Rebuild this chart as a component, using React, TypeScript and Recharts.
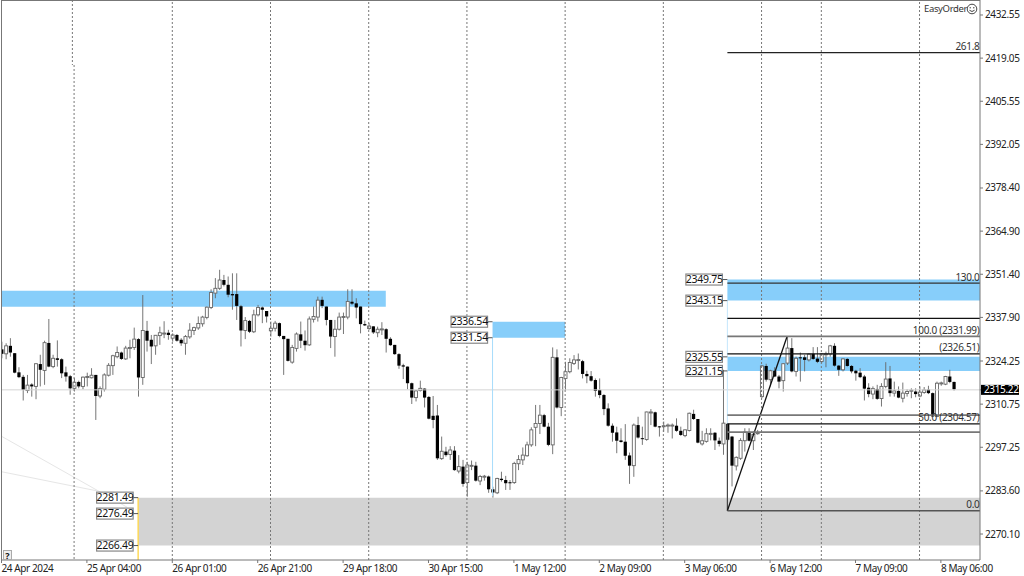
import { Bar, ComposedChart, ReferenceArea, ReferenceDot, ReferenceLine, XAxis, YAxis } from "recharts";

const FONT = "'Noto Sans', sans-serif";

const opens = [
  2327.9,2326.5,2329.0,2326.7,2320.7,2319.3,2315.0,2316.9,2316.3,2323.3,
  2321.3,2329.9,2322.5,2325.1,2324.8,2320.7,2319.5,2315.7,2317.7,2316.3,
  2319.2,2319.0,2319.9,2313.3,2315.4,2319.8,2322.8,2325.6,2326.9,2324.9,
  2328.3,2328.5,2331.1,2319.1,2333.7,2330.9,2329.0,2332.2,2332.7,2333.1,
  2331.4,2332.4,2330.9,2329.8,2331.8,2333.8,2334.6,2335.9,2337.9,2341.0,
  2345.5,2347.0,2349.6,2348.1,2345.2,2345.2,2341.4,2333.8,2336.8,2333.4,
  2338.7,2341.0,2339.9,2333.7,2334.5,2336.1,2332.1,2331.2,2323.9,2328.2,
  2332.6,2330.6,2329.3,2337.3,2338.0,2343.4,2341.3,2337.1,2331.9,2334.2,
  2338.0,2338.0,2342.8,2342.3,2341.3,2335.8,2334.4,2335.1,2333.1,2334.1,
  2334.2,2331.2,2329.3,2326.4,2322.9,2322.5,2317.3,2312.8,2315.0,2315.6,
  2313.0,2307.1,2307.2,2293.7,2295.9,2295.0,2296.2,2289.8,2291.2,2286.2,
  2291.4,2291.5,2286.7,2288.0,2288.1,2284.1,2283.0,2287.4,2287.0,2286.3,
  2286.2,2292.1,2293.3,2294.6,2298.0,2303.5,2304.7,2307.3,2303.7,2298.0,
  2325.4,2309.7,2318.8,2320.9,2323.5,2324.5,2324.2,2320.2,2319.5,2318.3,
  2315.2,2313.6,2309.4,2304.0,2301.9,2299.4,2299.0,2294.7,2291.5,2304.2,
  2300.1,2299.7,2308.1,2308.2,2303.8,2303.8,2304.0,2304.0,2304.0,2302.4,
  2300.9,2302.5,2307.7,2306.1,2298.3,2299.1,2301.4,2301.8,2299.3,2298.3,
  2304.6,2300.6,2291.4,2293.8,2299.3,2302.0,2299.3,2301.6,2313.1,2322.7,
  2318.4,2321.2,2319.4,2318.1,2323.6,2328.3,2321.0,2325.4,2325.4,2324.6,
  2326.5,2325.0,2324.1,2326.3,2326.4,2329.0,2322.8,2321.5,2324.9,2322.7,
  2321.2,2320.6,2319.4,2315.9,2313.9,2315.5,2312.5,2316.3,2318.8,2314.2,
  2314.9,2312.6,2314.1,2314.9,2314.7,2313.3,2314.4,2315.3,2314.2,2306.9,
  2317.2,2317.0,2319.4,2317.7,
];
const highs = [
  2330.3,2329.8,2331.4,2326.7,2322.3,2319.9,2319.9,2317.3,2323.6,2326.2,
  2330.6,2337.4,2326.2,2330.7,2325.1,2322.5,2319.9,2318.9,2318.1,2319.4,
  2320.6,2322.0,2319.9,2316.3,2320.4,2323.6,2326.2,2328.8,2327.2,2329.0,
  2330.9,2334.7,2331.4,2344.9,2336.8,2332.4,2332.4,2335.0,2336.7,2334.0,
  2332.9,2332.7,2331.4,2332.4,2336.1,2335.0,2338.2,2338.4,2341.3,2346.7,
  2350.2,2352.8,2351.2,2350.7,2351.7,2351.7,2341.8,2338.0,2337.1,2340.3,
  2341.8,2341.3,2339.9,2336.6,2336.8,2336.3,2332.1,2331.2,2329.3,2333.2,
  2336.6,2333.8,2338.2,2341.3,2344.4,2344.4,2341.3,2337.1,2337.1,2339.4,
  2339.4,2346.7,2346.7,2343.9,2341.3,2336.9,2336.1,2335.1,2335.0,2336.4,
  2334.5,2331.7,2329.3,2326.7,2323.4,2322.5,2317.5,2315.2,2318.1,2315.7,
  2313.3,2313.3,2310.5,2300.6,2297.4,2297.6,2297.6,2294.8,2293.3,2292.7,
  2293.1,2292.7,2288.6,2288.6,2288.4,2284.9,2287.7,2289.6,2288.3,2287.0,
  2292.7,2294.8,2297.2,2299.0,2303.5,2310.5,2310.5,2307.7,2304.9,2328.5,
  2327.9,2319.3,2324.0,2325.1,2326.1,2326.6,2324.6,2321.2,2321.1,2318.8,
  2318.8,2313.9,2311.0,2304.7,2303.7,2303.2,2304.5,2295.6,2304.7,2306.8,
  2303.7,2308.4,2309.2,2308.4,2303.9,2305.3,2304.7,2304.7,2306.3,2303.7,
  2302.9,2308.1,2309.0,2306.1,2302.4,2303.2,2303.2,2302.0,2300.3,2321.5,
  2304.8,2300.8,2294.4,2300.1,2303.2,2303.2,2302.2,2302.7,2323.0,2323.4,
  2321.5,2322.3,2319.9,2323.6,2331.7,2331.4,2325.6,2326.9,2326.2,2326.7,
  2328.6,2328.6,2326.7,2327.2,2329.3,2329.8,2323.0,2325.1,2325.1,2323.0,
  2321.5,2322.0,2319.9,2317.3,2316.3,2316.8,2317.3,2323.9,2322.7,2317.8,
  2316.3,2317.5,2315.4,2315.7,2315.7,2316.3,2316.1,2316.5,2314.4,2317.8,
  2317.8,2319.6,2321.5,2317.8,
];
const lows = [
  2325.1,2324.8,2325.6,2320.4,2318.9,2311.9,2314.2,2313.1,2312.3,2316.3,
  2316.8,2322.3,2322.0,2322.5,2318.9,2317.8,2313.7,2314.7,2315.7,2315.4,
  2316.3,2318.8,2305.8,2312.6,2314.7,2319.4,2319.9,2325.1,2324.6,2324.6,
  2325.1,2327.7,2313.1,2316.8,2327.2,2323.3,2326.2,2329.3,2331.4,2330.9,
  2330.3,2330.3,2329.0,2326.2,2331.2,2332.4,2334.0,2335.0,2337.3,2340.5,
  2343.9,2346.5,2347.6,2344.2,2340.3,2337.1,2328.8,2331.1,2333.0,2333.0,
  2338.2,2336.1,2336.3,2331.9,2333.5,2331.7,2319.9,2324.1,2323.4,2327.2,
  2328.3,2327.5,2329.0,2336.3,2336.6,2340.8,2335.4,2328.3,2325.6,2333.8,
  2332.7,2337.3,2341.8,2337.6,2332.9,2335.2,2334.0,2332.7,2331.7,2332.4,
  2326.9,2329.0,2326.2,2321.8,2318.6,2315.4,2310.8,2311.6,2314.7,2309.7,
  2306.0,2303.2,2293.3,2293.3,2294.3,2293.3,2289.9,2289.1,2284.9,2281.8,
  2290.1,2286.5,2285.4,2286.8,2283.0,2281.5,2282.6,2286.5,2283.9,2283.9,
  2285.8,2290.1,2291.7,2294.3,2297.4,2297.6,2301.4,2303.5,2297.6,2295.1,
  2309.4,2307.0,2315.2,2320.4,2323.0,2321.6,2318.8,2317.3,2317.8,2313.1,
  2312.6,2307.3,2303.7,2299.0,2295.4,2298.7,2293.3,2285.8,2288.0,2300.0,
  2298.0,2299.3,2304.2,2303.5,2300.6,2302.1,2301.8,2300.0,2302.1,2300.8,
  2300.4,2302.2,2305.8,2298.5,2297.8,2298.7,2299.4,2296.4,2297.5,2294.9,
  2299.1,2285.0,2290.0,2293.3,2295.9,2299.1,2296.4,2301.2,2312.6,2317.8,
  2316.3,2319.2,2315.7,2314.7,2323.0,2320.7,2319.4,2317.8,2321.0,2324.1,
  2324.6,2323.6,2323.6,2322.3,2325.6,2322.5,2319.6,2321.0,2322.5,2320.4,
  2318.1,2318.9,2311.9,2312.9,2312.3,2312.1,2310.0,2315.7,2313.1,2313.1,
  2312.6,2311.3,2313.1,2312.6,2312.9,2312.9,2314.0,2313.9,2306.7,2306.7,
  2316.5,2316.7,2317.3,2315.0,
];
const closes = [
  2326.5,2329.0,2326.9,2320.6,2319.2,2315.2,2316.7,2316.3,2323.4,2321.5,
  2330.0,2322.5,2325.1,2324.6,2320.4,2319.4,2315.7,2317.6,2316.3,2319.2,
  2319.4,2319.8,2313.3,2315.6,2319.9,2322.9,2325.9,2326.9,2324.9,2328.3,
  2328.5,2331.1,2319.1,2333.8,2330.6,2328.8,2332.3,2333.1,2333.0,2332.4,
  2332.4,2330.6,2329.8,2331.9,2333.9,2334.7,2336.0,2338.0,2341.1,2345.7,
  2347.0,2349.6,2348.1,2345.0,2344.8,2341.5,2333.8,2336.9,2333.4,2338.7,
  2341.0,2340.3,2338.2,2334.5,2336.1,2332.1,2331.1,2324.3,2328.5,2332.7,
  2330.6,2329.2,2337.4,2338.2,2343.3,2341.5,2337.1,2331.9,2334.2,2338.0,
  2338.2,2342.9,2342.2,2341.0,2335.8,2335.4,2335.2,2333.2,2334.2,2334.3,
  2331.2,2329.2,2326.4,2322.8,2322.5,2317.3,2312.8,2314.9,2315.7,2312.8,
  2306.2,2305.8,2293.8,2296.0,2294.8,2296.4,2290.1,2291.2,2285.8,2291.7,
  2291.6,2286.8,2288.1,2288.2,2284.1,2283.1,2287.5,2287.0,2286.0,2286.1,
  2292.2,2293.4,2294.8,2298.0,2302.7,2304.7,2307.3,2303.7,2298.0,2325.4,
  2309.7,2319.1,2320.9,2323.8,2324.6,2324.7,2320.2,2319.5,2318.1,2314.9,
  2313.6,2309.2,2304.0,2301.8,2299.3,2298.9,2294.6,2291.5,2304.2,2300.3,
  2299.8,2308.3,2308.3,2303.7,2303.5,2304.0,2304.2,2304.2,2302.4,2301.1,
  2302.7,2307.9,2306.1,2298.7,2299.3,2301.5,2301.6,2299.4,2298.3,2304.8,
  2299.6,2291.5,2294.1,2299.4,2302.0,2299.3,2301.3,2301.8,2322.7,2318.4,
  2321.2,2319.4,2317.8,2323.4,2328.3,2321.0,2325.1,2325.1,2324.6,2326.4,
  2324.9,2324.0,2326.5,2326.5,2329.0,2322.8,2321.5,2324.9,2322.7,2321.0,
  2320.4,2319.2,2315.6,2313.9,2315.6,2312.4,2316.3,2318.6,2314.2,2314.9,
  2312.8,2314.2,2314.7,2315.1,2313.9,2314.5,2315.2,2314.2,2306.9,2317.3,
  2317.4,2319.4,2317.7,2315.4,
];

const priceTicks = [2432.55,2419.05,2405.55,2392.05,2378.40,2364.90,2351.40,2337.90,2324.25,2315.22,2310.75,2297.25,2283.60,2270.10];
const lastPrice = 2315.22;
const timeTicks = [0,20,40,60,80,100,120,140,160,180,200,220];
const timeLabels = ["24 Apr 2024","25 Apr 04:00","26 Apr 01:00","26 Apr 21:00","29 Apr 18:00","30 Apr 15:00","1 May 12:00","2 May 09:00","3 May 06:00","6 May 12:00","7 May 09:00","8 May 06:00"];
const daySeparators = [40,63,86,109,132,155,178,192,215];

const xMin = -0.117;
const xMax = 229.16;
const yMin = 2261.97;
const yMax = 2437.24;

// [from bar, to bar, upper price, lower price]
const blueZones = [
  [xMin,90,2346.25,2341.25],
  [115,132,2336.54,2331.54],
  [170,xMax,2349.75,2343.15],
  [170,xMax,2325.55,2321.15],
];
const grayZone = [32,xMax,2281.49,2266.49];

// [price, colour, width]
const fibLines: [number,string,number][] = [
  [2420.8,"#222",1.2],
  [2348.6,"#333",1.2],
  [2337.6,"#111",1.2],
  [2331.99,"#777",1.8],
  [2326.51,"#111",1.2],
  [2307.3,"#777",1.6],
  [2304.57,"#111",1.2],
  [2302.0,"#777",1.6],
  [2277.4,"#555",1.4],
];
const fibTexts: [string,number][] = [
  ["261.8",2420.8],
  ["130.0",2348.6],
  ["100.0 (2331.99)",2331.99],
  ["(2326.51)",2326.51],
  ["50.0 (2304.57)",2304.57],
  ["0.0",2277.4],
];
// [bar, price]
const priceBoxes = [
  [32,2281.49],[32,2276.49],[32,2266.49],
  [115,2336.54],[115,2331.54],
  [170,2349.75],[170,2343.15],[170,2325.55],[170,2321.15],
];

const candles = opens.map((open,i) => ({ idx:i, open, high:highs[i], low:lows[i], close:closes[i] }));

function Candle(props:any) {
  const { x, y, width, height, payload } = props;
  const top = Math.min(y, y+height);
  const h = Math.abs(height);
  const unit = h/(payload.high-payload.low);
  const cx = x+width/2;
  const bull = payload.close>=payload.open;
  const yTop = top+(payload.high-Math.max(payload.open,payload.close))*unit;
  const yBot = top+(payload.high-Math.min(payload.open,payload.close))*unit;
  return (
    <g>
      <line x1={cx} x2={cx} y1={top} y2={top+h} stroke="#666" strokeWidth={0.9} />
      {bull
        ? <rect x={cx-1.5} y={yTop} width={3} height={Math.max(yBot-yTop,1)} fill="#fff" stroke="#666" strokeWidth={0.9} />
        : <rect x={cx-1.6} y={yTop} width={3.2} height={Math.max(yBot-yTop,1)} fill="#000" />}
    </g>
  );
}

function PriceTick(props:any) {
  const { x, y, payload } = props;
  if (payload.value===lastPrice) {
    return (
      <g>
        <rect x={x-2} y={y-5} width={38} height={10} fill="#000" />
        <text x={x+1} y={y+3.5} fontSize={10} fontFamily={FONT} fill="#fff" letterSpacing={-0.35}>{payload.value.toFixed(2)}</text>
      </g>
    );
  }
  return <text x={x+2} y={y+3.5} fontSize={10} fontFamily={FONT} fill="#222" letterSpacing={-0.35}>{payload.value.toFixed(2)}</text>;
}

function TimeTick(props:any) {
  const { x, y, payload, index } = props;
  return <text x={x} y={y+9} fontSize={10} fontFamily={FONT} fill="#222" letterSpacing={-0.4}>{timeLabels[index]}</text>;
}

function boxShape(price:number) {
  return (props:any) => {
    const { cx, cy } = props;
    return (
      <g>
        <line x1={cx-5} x2={cx} y1={cy} y2={cy} stroke="#555" />
        <rect x={cx-41.5} y={cy-5.5} width={36.5} height={11} fill="#fff" stroke="#888" strokeWidth={1.2} />
        <text x={cx-23.2} y={cy+3.7} textAnchor="middle" fontSize={10.5} fontFamily={FONT} fill="#111" letterSpacing={-0.25}>{price.toFixed(2)}</text>
      </g>
    );
  };
}

function fibTextShape(text:string) {
  return (props:any) => (
    <text x={props.cx-0.5} y={props.cy-2.5} textAnchor="end" fontSize={10} fontFamily={FONT} fill="#333" letterSpacing={-0.3}>{text}</text>
  );
}

export default function App() {
  return (
    <div style={{ position:"fixed", left:0, top:0, width:1024, height:576, background:"#fff", overflow:"hidden" }}>
      <ComposedChart width={1024} height={576} data={candles} margin={{ top:0, right:0, bottom:0, left:1 }}>
        <XAxis
          dataKey="idx" type="number" domain={[xMin,xMax]} ticks={timeTicks} interval={0}
          height={16} tickSize={3} tickMargin={0} tick={<TimeTick />}
          stroke="#777" allowDataOverflow
        />
        <YAxis
          orientation="right" domain={[yMin,yMax]} ticks={priceTicks} interval={0}
          width={44} tickSize={3} tickMargin={0} tick={<PriceTick />}
          stroke="#777" allowDataOverflow
        />
        {blueZones.map((z,i) => (
          <ReferenceArea key={i} x1={z[0]} x2={z[1]} y1={z[2]} y2={z[3]} fill="#87CEFA" fillOpacity={1} stroke="none" />
        ))}
        <ReferenceArea x1={grayZone[0]} x2={grayZone[1]} y1={grayZone[2]} y2={grayZone[3]} fill="#D3D3D3" fillOpacity={1} stroke="none" />
        <ReferenceLine y={lastPrice} stroke="#d4d4d4" strokeWidth={1} />
        <ReferenceLine segment={[{x:0,y:2300.7},{x:29.4,y:2278.5}]} stroke="#e6e6e6" />
        <ReferenceLine segment={[{x:0,y:2289.6},{x:22.4,y:2283.6}]} stroke="#e6e6e6" />
        <ReferenceLine segment={[{x:16.6,y:yMax},{x:16.6,y:2416.9}]} stroke="#777" strokeDasharray="2 2" />
        <ReferenceLine segment={[{x:17,y:2416.9},{x:17,y:yMin}]} stroke="#777" strokeDasharray="2 2" />
        {daySeparators.map(d => (
          <ReferenceLine key={d} x={d} stroke="#777" strokeDasharray="2 2" />
        ))}
        <ReferenceLine segment={[{x:115,y:2331.54},{x:115,y:2282}]} stroke="#A8DCFB" />
        <ReferenceLine segment={[{x:170,y:2343.15},{x:170,y:2304.6}]} stroke="#C4E6FC" />
        <ReferenceLine segment={[{x:32,y:2281.49},{x:32,y:yMin}]} stroke="#FFD84D" strokeWidth={1.4} />
        <Bar dataKey={(d:any) => [d.low,d.high]} barSize={3} shape={<Candle />} isAnimationActive={false} />
        <ReferenceLine segment={[{x:170,y:2304.6},{x:170,y:2277.4}]} stroke="#444" strokeWidth={1.2} />
        <ReferenceLine segment={[{x:170,y:2277.4},{x:184,y:2331.99}]} stroke="#111" strokeWidth={1.3} />
        {fibLines.map(([p,c,w]) => (
          <ReferenceLine key={p} segment={[{x:170,y:p},{x:xMax,y:p}]} stroke={c} strokeWidth={w} />
        ))}
        {fibTexts.map(([t,p]) => (
          <ReferenceDot key={t} x={xMax} y={p} r={0} shape={fibTextShape(t)} />
        ))}
        {priceBoxes.map(([b,p]) => (
          <ReferenceDot key={p} x={b} y={p} r={0} shape={boxShape(p)} />
        ))}
      </ComposedChart>
      <div style={{ position:"absolute", left:1, top:0, width:979, height:560, boxSizing:"border-box", borderLeft:"1px solid #777", borderTop:"1px solid #777", pointerEvents:"none" }} />
      <div style={{ position:"absolute", left:3, top:550, width:9, height:10, boxSizing:"border-box", border:"1px solid #aaa", background:"#eee", font:`bold 9px ${FONT}`, lineHeight:"9px", textAlign:"center", color:"#111" }}>?</div>
      <div style={{ position:"absolute", left:924, top:2, font:`9.5px ${FONT}`, letterSpacing:-0.35, color:"#333" }}>EasyOrder</div>
      <svg style={{ position:"absolute", left:966, top:3 }} width={12} height={12}>
        <circle cx={6} cy={6} r={4.8} fill="none" stroke="#444" />
        <circle cx={4.2} cy={4.7} r={0.7} fill="#444" />
        <circle cx={7.8} cy={4.7} r={0.7} fill="#444" />
        <path d="M3.4 7.2 Q6 9.8 8.6 7.2" fill="none" stroke="#444" />
      </svg>
    </div>
  );
}
